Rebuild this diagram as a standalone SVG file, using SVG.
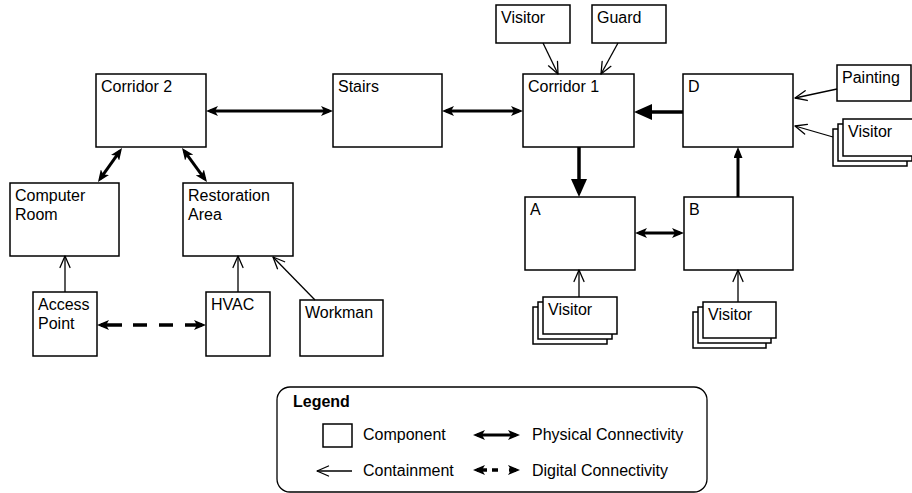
<svg xmlns="http://www.w3.org/2000/svg" width="912" height="493" viewBox="0 0 912 493">
  <style>
    .box { fill: #fff; stroke: #000; stroke-width: 1.5; }
    .lbl { font-family: "Liberation Sans", Arial, Helvetica, sans-serif; font-size: 16px; fill: #000; }
    .bold { font-weight: bold; }
    .phys { stroke: #000; stroke-width: 3; fill: none; }
    .dig { stroke: #000; stroke-width: 3.5; fill: none; }
    .flow { stroke: #000; stroke-width: 3.5; fill: none; }
    .cont { stroke: #000; stroke-width: 1.3; fill: none; }
  </style>
  <defs>
    <marker id="ph" viewBox="0 0 12 10" refX="8" refY="5" markerWidth="12" markerHeight="10" markerUnits="userSpaceOnUse" orient="auto-start-reverse">
      <path d="M0,0 L12,5 L0,10 L3,5 z" fill="#000"/>
    </marker>
    <marker id="big" viewBox="0 0 18 16" refX="14" refY="8" markerWidth="18" markerHeight="16" markerUnits="userSpaceOnUse" orient="auto">
      <path d="M0,0 L18,8 L0,16 z" fill="#000"/>
    </marker>
    <marker id="sm" viewBox="0 0 11 9" refX="7" refY="4.5" markerWidth="11" markerHeight="9" markerUnits="userSpaceOnUse" orient="auto">
      <path d="M0,0 L11,4.5 L0,9 z" fill="#000"/>
    </marker>
    <marker id="open" viewBox="0 0 14 12" refX="12.5" refY="6" markerWidth="14" markerHeight="12" markerUnits="userSpaceOnUse" orient="auto" overflow="visible">
      <path d="M1,1 L12.5,6 L1,11" fill="none" stroke="#000" stroke-width="1.3" stroke-linecap="round" stroke-linejoin="round"/>
    </marker>
  </defs>

  <!-- components -->
  <g id="corridor2"><rect class="box" x="96" y="74" width="110" height="73"/><text class="lbl" x="101" y="92">Corridor 2</text></g>
  <g id="stairs"><rect class="box" x="333" y="74" width="109" height="73"/><text class="lbl" x="338" y="92">Stairs</text></g>
  <g id="corridor1"><rect class="box" x="523" y="74" width="111" height="73"/><text class="lbl" x="528" y="92">Corridor 1</text></g>
  <g id="roomD"><rect class="box" x="683" y="74" width="110" height="73"/><text class="lbl" x="688" y="92">D</text></g>
  <g id="roomA"><rect class="box" x="525" y="197" width="110" height="73"/><text class="lbl" x="530" y="215">A</text></g>
  <g id="roomB"><rect class="box" x="684" y="197" width="109" height="73"/><text class="lbl" x="689" y="215">B</text></g>
  <g id="computerRoom"><rect class="box" x="10" y="183" width="109" height="73"/><text class="lbl" x="15" y="201">Computer</text><text class="lbl" x="15" y="220">Room</text></g>
  <g id="restorationArea"><rect class="box" x="183" y="183" width="110" height="73"/><text class="lbl" x="188" y="201">Restoration</text><text class="lbl" x="188" y="220">Area</text></g>
  <g id="accessPoint"><rect class="box" x="33" y="292" width="64" height="64"/><text class="lbl" x="38" y="310">Access</text><text class="lbl" x="38" y="329">Point</text></g>
  <g id="hvac"><rect class="box" x="206" y="292" width="64" height="64"/><text class="lbl" x="211" y="310">HVAC</text></g>
  <g id="workman"><rect class="box" x="300" y="300" width="83" height="56"/><text class="lbl" x="305" y="318">Workman</text></g>
  <g id="visitorTop"><rect class="box" x="496" y="5" width="74" height="38"/><text class="lbl" x="501" y="23">Visitor</text></g>
  <g id="guard"><rect class="box" x="592" y="5" width="74" height="38"/><text class="lbl" x="597" y="23">Guard</text></g>
  <g id="painting"><rect class="box" x="837" y="65" width="74" height="36"/><text class="lbl" x="842" y="83">Painting</text></g>
  <g id="visitorsD">
    <rect class="box" x="833" y="129" width="74" height="37"/>
    <rect class="box" x="838" y="124" width="74" height="37"/>
    <rect class="box" x="843" y="119" width="74" height="37"/>
    <text class="lbl" x="848" y="137">Visitor</text>
  </g>
  <g id="visitorsA">
    <rect class="box" x="533" y="307" width="74" height="37"/>
    <rect class="box" x="538" y="302" width="74" height="37"/>
    <rect class="box" x="543" y="297" width="74" height="37"/>
    <text class="lbl" x="548" y="315">Visitor</text>
  </g>
  <g id="visitorsB">
    <rect class="box" x="693" y="312" width="73" height="36"/>
    <rect class="box" x="698" y="307" width="73" height="36"/>
    <rect class="box" x="703" y="302" width="73" height="36"/>
    <text class="lbl" x="708" y="320">Visitor</text>
  </g>

  <!-- connectors -->
  <g id="connectors">
    <line class="phys" x1="210" y1="111" x2="329" y2="111" marker-start="url(#ph)" marker-end="url(#ph)"/>
    <line class="phys" x1="446" y1="111" x2="519" y2="111" marker-start="url(#ph)" marker-end="url(#ph)"/>
    <line class="phys" x1="639" y1="233" x2="680" y2="233" marker-start="url(#ph)" marker-end="url(#ph)"/>
    <line class="phys" x1="119.7" y1="151.3" x2="100.3" y2="178.7" marker-start="url(#ph)" marker-end="url(#ph)"/>
    <line class="phys" x1="184.4" y1="151.2" x2="204.6" y2="178.8" marker-start="url(#ph)" marker-end="url(#ph)"/>
    <line class="dig" x1="101" y1="325" x2="202" y2="325" stroke-dasharray="21 11 14 12 14 12 17" marker-start="url(#ph)" marker-end="url(#ph)"/>
    <line class="flow" x1="579" y1="147" x2="579" y2="193" marker-end="url(#big)"/>
    <line class="flow" x1="683" y1="112" x2="638" y2="112" marker-end="url(#big)"/>
    <line class="phys" x1="738" y1="197" x2="738" y2="151" marker-end="url(#sm)"/>
    <line class="cont" x1="65" y1="292" x2="65" y2="256" marker-end="url(#open)"/>
    <line class="cont" x1="238" y1="292" x2="238" y2="256" marker-end="url(#open)"/>
    <line class="cont" x1="315" y1="300" x2="273" y2="257" marker-end="url(#open)"/>
    <line class="cont" x1="543" y1="43" x2="558" y2="74" marker-end="url(#open)"/>
    <line class="cont" x1="618" y1="43" x2="601" y2="74" marker-end="url(#open)"/>
    <line class="cont" x1="837" y1="89" x2="795" y2="98" marker-end="url(#open)"/>
    <line class="cont" x1="833" y1="137" x2="795" y2="126" marker-end="url(#open)"/>
    <line class="cont" x1="579" y1="297" x2="579" y2="270" marker-end="url(#open)"/>
    <line class="cont" x1="738" y1="302" x2="738" y2="270" marker-end="url(#open)"/>
  </g>

  <!-- legend -->
  <g id="legend">
    <rect x="277" y="387" width="430" height="105" rx="13" fill="#fff" stroke="#000" stroke-width="1.3"/>
    <text class="lbl bold" x="293" y="407">Legend</text>
    <rect class="box" x="323" y="424" width="29" height="23" stroke-width="1.3"/>
    <text class="lbl" x="363" y="440">Component</text>
    <line class="phys" x1="477" y1="435" x2="516" y2="435" marker-start="url(#ph)" marker-end="url(#ph)"/>
    <text class="lbl" x="532" y="440">Physical Connectivity</text>
    <line class="cont" x1="352" y1="471" x2="317" y2="471" marker-end="url(#open)"/>
    <text class="lbl" x="363" y="476">Containment</text>
    <line class="dig" x1="477" y1="470" x2="516" y2="470" stroke-dasharray="10 5 6 11 7" marker-start="url(#ph)" marker-end="url(#ph)"/>
    <text class="lbl" x="532" y="476">Digital Connectivity</text>
  </g>
</svg>
